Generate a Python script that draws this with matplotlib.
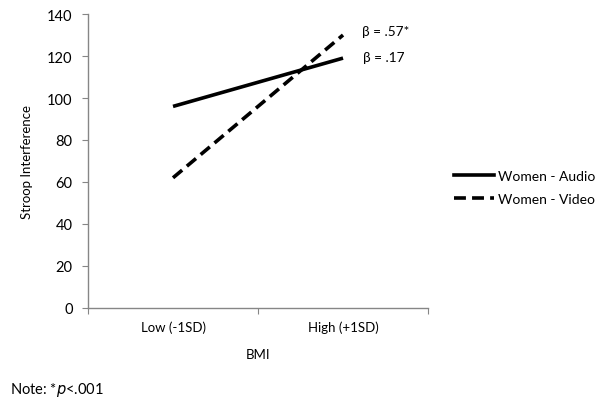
import matplotlib
matplotlib.use("Agg")
import matplotlib.pyplot as plt
from matplotlib.lines import Line2D

plt.rcParams['font.family'] = ['Lato', 'DejaVu Sans']

categories = ["Low (-1SD)", "High (+1SD)"]
audio = [96, 119]
video = [62, 130]
series_names = ["Women - Audio", "Women - Video"]
yticks = [0, 20, 40, 60, 80, 100, 120, 140]
beta_labels = ["β = .57*", "β = .17"]

fig = plt.figure(figsize=(6, 4.06), dpi=100)
ax = fig.add_axes([0.1467, 0.239, 0.5667, 0.724])

dash = (0, (3.3, 1.7))
x = [0.5, 1.5]
ax.plot(x, audio, color='black', lw=2.6, solid_capstyle='butt')
ax.plot(x, video, color='black', lw=2.6, linestyle=dash, dash_capstyle='butt')

ax.set_xlim(0, 2)
ax.set_ylim(0, 140)
ax.set_yticks(yticks)
ax.set_xticks([0, 1, 2])
ax.set_xticklabels([])
ax.set_xticks(x, minor=True)
ax.set_xticklabels(categories, minor=True)
ax.tick_params(axis='x', which='minor', length=0, pad=9, labelsize=9.5)
ax.tick_params(axis='x', which='major', length=4, color='#868686', direction='out')
ax.tick_params(axis='y', length=4, color='#868686', direction='out', labelsize=10.5, pad=7)

for s in ['top', 'right']:
    ax.spines[s].set_visible(False)
for s in ['left', 'bottom']:
    ax.spines[s].set_color('#868686')
    ax.spines[s].set_linewidth(1)

ax.set_ylabel("Stroop Interference", fontsize=9.5, labelpad=10)
ax.set_xlabel("BMI", fontsize=9.5, labelpad=11)

ax.text(1.61, video[1] + 2, beta_labels[0], fontsize=9.8, va='center', ha='left')
ax.text(1.62, audio[1] + 0.5, beta_labels[1], fontsize=9.8, va='center', ha='left')

handles = [Line2D([0], [0], color='black', lw=2.6),
           Line2D([0], [0], color='black', lw=2.6, linestyle=dash)]
fig.legend(handles, series_names, loc='center left', bbox_to_anchor=(0.735, 0.535),
           frameon=False, fontsize=10, handlelength=2.9, handletextpad=0.3, labelspacing=0.8)

fig.text(0.017, 0.04, r"Note: *$\it{p}$<.001", fontsize=10.5, va='center', ha='left')

fig.savefig("out.png", dpi=100)
